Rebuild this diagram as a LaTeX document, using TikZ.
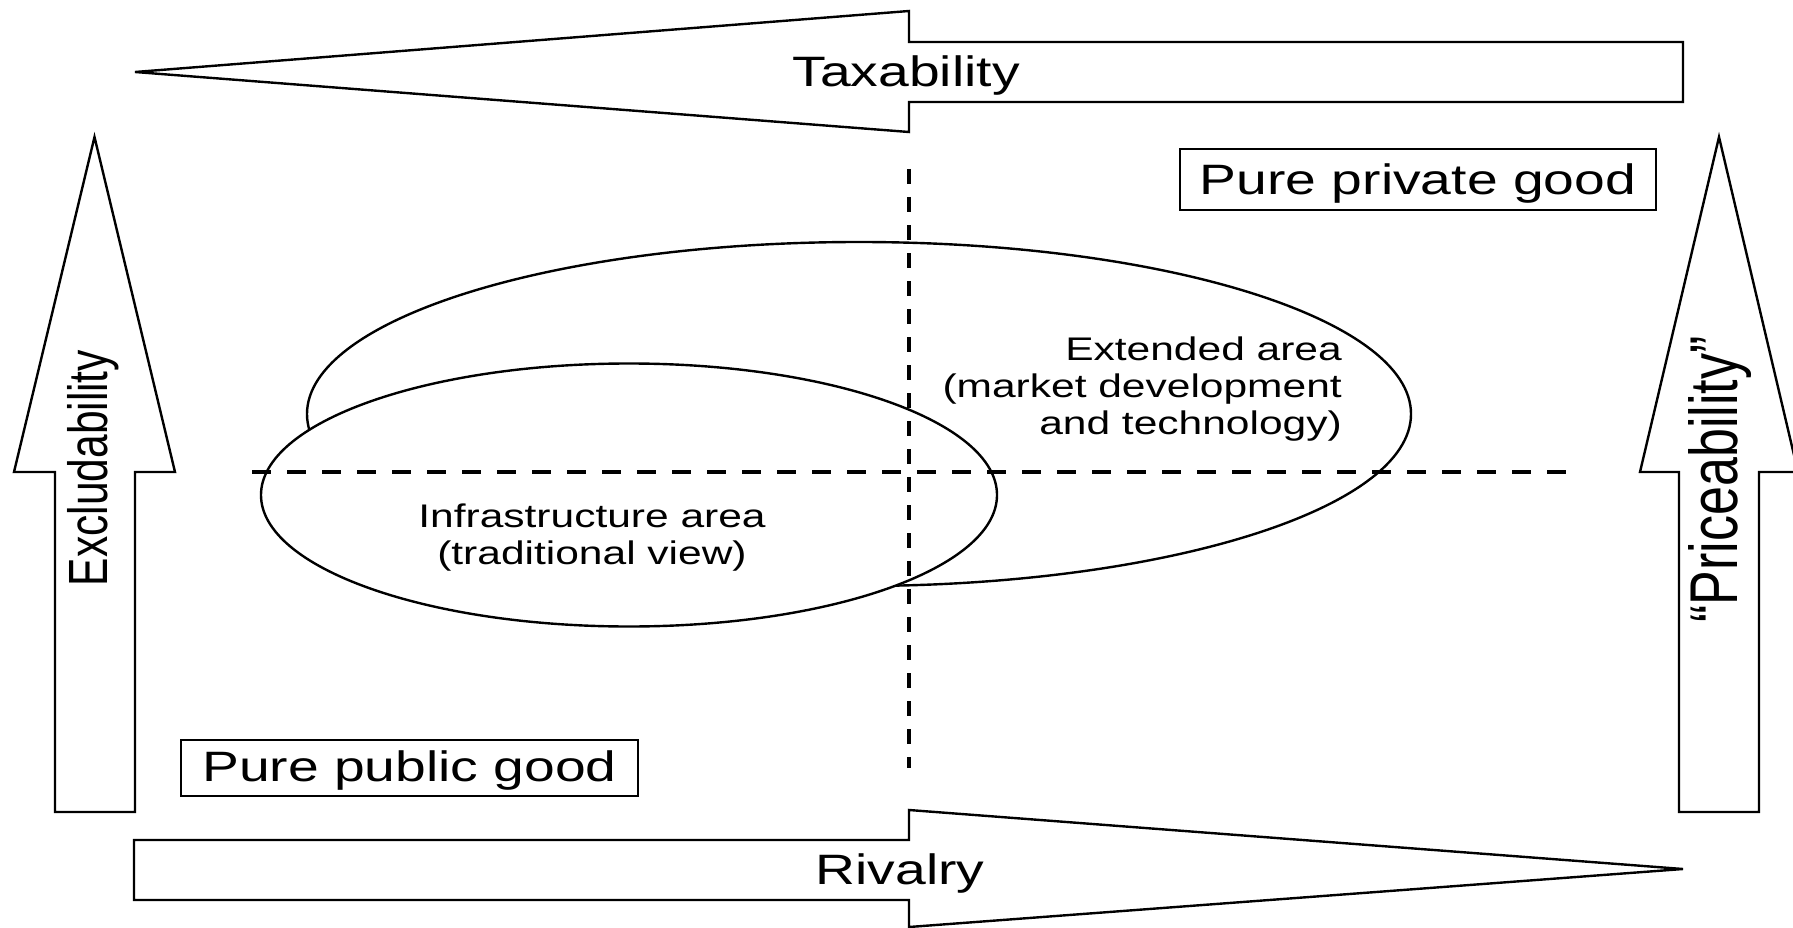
\documentclass[tikz,border=0pt]{standalone}
\usepackage{fontspec}
\usepackage{graphicx}
\setmainfont{Liberation Sans}
\newfontfamily\widef[FakeStretch=1.3]{Liberation Sans}
\begin{document}
\begin{tikzpicture}[x=1pt,y=-1pt,
  outl/.style={draw=black,line width=2.4pt,line join=miter},
  ell/.style={draw=black,line width=2.4pt},
  dashv/.style={draw=black,line width=4.5pt,dash pattern=on 15pt off 13pt},
  dashh/.style={draw=black,line width=4pt,dash pattern=on 19pt off 16pt},
  biglab/.style={inner sep=0pt,font=\widef\fontsize{42.5}{48}\selectfont},
  vlab/.style={inner sep=0pt,rotate=90},
  smalllab/.style={inner sep=0pt,font=\widef\fontsize{32.7}{37}\selectfont},
  goodbox/.style={draw=black,line width=2.4pt,inner sep=0pt,text depth=0pt,font=\widef\fontsize{42.5}{48}\selectfont}]
\useasboundingbox (0,0) rectangle (1793,928);
% arrows
\draw[outl] (135,72) -- (909,11) -- (909,42) -- (1683,42) -- (1683,102) -- (909,102) -- (909,132) -- cycle;
\draw[outl] (134,840) -- (909,840) -- (909,810) -- (1683,869) -- (909,927) -- (909,900) -- (134,900) -- cycle;
\draw[outl] (94.5,137) -- (175,472) -- (135,472) -- (135,812) -- (55,812) -- (55,472) -- (14,472) -- cycle;
\draw[outl] (1719,137) -- (1798,472) -- (1759,472) -- (1759,812) -- (1679,812) -- (1679,472) -- (1640,472) -- cycle;
% ellipses
\draw[ell] (859,414) ellipse [x radius=552, y radius=172];
\draw[ell,fill=white] (629,495) ellipse [x radius=368, y radius=131.5];
% dashed axes
\coordinate (vtop) at (909,169);
\coordinate (vbot) at (909,768);
\coordinate (hleft) at (252,472);
\coordinate (hright) at (1567,472);
\draw[dashv] (vtop) -- (vbot);
\draw[dashh] (hleft) -- (hright);
% labels
\node[biglab] (tax) at (906,75.5) {Taxability};
\node[biglab] (riv) at (900,873.5) {Rivalry};
\node[vlab,font=\fontsize{42.5}{48}\selectfont] (excl) at (93,468) {\scalebox{1}[1.3]{Excludability}};
\node[vlab,font=\fontsize{52}{58}\selectfont] (price) at (1720,479.5) {\scalebox{1}[1.3]{“Priceability”}};
\node[goodbox,minimum width=476pt,minimum height=61pt,text height=30pt] (priv) at (1418,179.5) {Pure private good};
\node[goodbox,minimum width=457pt,minimum height=56pt,text height=26pt] (pub) at (409.5,768) {Pure public good};
\node[smalllab,anchor=east,align=right] (ext) at (1342,389.5) {Extended area\\(market development\\and technology)};
\node[smalllab,align=center] (infra) at (592,538) {Infrastructure area\\(traditional view)};
\end{tikzpicture}
\end{document}
